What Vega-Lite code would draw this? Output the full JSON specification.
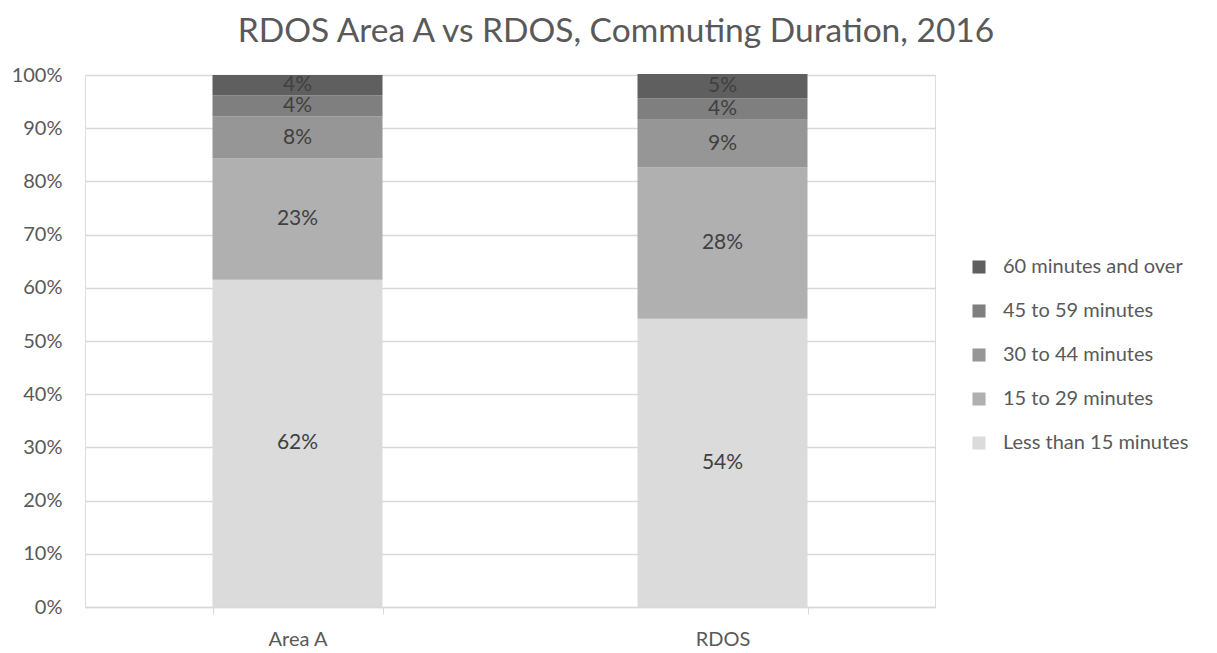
{
  "$schema": "https://vega.github.io/schema/vega-lite/v6.json",
  "autosize": {"type": "none"},
  "padding": {"left": 85, "top": 75, "right": 282, "bottom": 46},
  "width": 850,
  "height": 532,
  "background": "white",
  "title": {
    "text": "RDOS Area A vs RDOS, Commuting Duration, 2016",
    "font": "Lato",
    "fontSize": 33.5,
    "fontWeight": "normal",
    "color": "#595959",
    "anchor": "middle",
    "frame": "group",
    "dx": 106,
    "offset": 16
  },
  "data": {
    "values": [
      {"area": "Area A", "duration": "Less than 15 minutes", "k": 1, "share": 0.615},
      {"area": "Area A", "duration": "15 to 29 minutes", "k": 2, "share": 0.228},
      {"area": "Area A", "duration": "30 to 44 minutes", "k": 3, "share": 0.079},
      {"area": "Area A", "duration": "45 to 59 minutes", "k": 4, "share": 0.040},
      {"area": "Area A", "duration": "60 minutes and over", "k": 5, "share": 0.038},
      {"area": "RDOS", "duration": "Less than 15 minutes", "k": 1, "share": 0.542},
      {"area": "RDOS", "duration": "15 to 29 minutes", "k": 2, "share": 0.284},
      {"area": "RDOS", "duration": "30 to 44 minutes", "k": 3, "share": 0.090},
      {"area": "RDOS", "duration": "45 to 59 minutes", "k": 4, "share": 0.040},
      {"area": "RDOS", "duration": "60 minutes and over", "k": 5, "share": 0.046}
    ]
  },
  "transform": [
    {"stack": "share", "groupby": ["area"], "sort": [{"field": "k", "order": "ascending"}], "as": ["v0", "v1"]},
    {"calculate": "(datum.v0 + datum.v1) / 2", "as": "mid"}
  ],
  "encoding": {
    "x": {
      "field": "area",
      "type": "nominal",
      "scale": {"paddingInner": 0.6, "paddingOuter": 0.3},
      "axis": {
        "title": null,
        "labelAngle": 0,
        "labelFont": "Lato",
        "labelFontSize": 20,
        "labelColor": "#595959",
        "labelPadding": 15,
        "domainColor": "#D9D9D9",
        "domainWidth": 1.5,
        "tickColor": "#D9D9D9",
        "tickBand": "extent",
        "tickSize": 7,
        "grid": false
      }
    }
  },
  "layer": [
    {
      "mark": {"type": "bar"},
      "encoding": {
        "y": {
          "field": "v0",
          "type": "quantitative",
          "scale": {"domain": [0, 1], "nice": false},
          "axis": {
            "title": null,
            "format": ".0%",
            "values": [0, 0.1, 0.2, 0.3, 0.4, 0.5, 0.6, 0.7, 0.8, 0.9, 1],
            "labelOverlap": false,
            "labelFont": "Lato",
            "labelFontSize": 20,
            "labelColor": "#595959",
            "labelPadding": 23,
            "domain": false,
            "ticks": false,
            "gridColor": "#D9D9D9",
            "gridWidth": 1.5
          }
        },
        "y2": {"field": "v1"},
        "color": {
          "field": "duration",
          "type": "nominal",
          "scale": {
            "domain": ["60 minutes and over", "45 to 59 minutes", "30 to 44 minutes", "15 to 29 minutes", "Less than 15 minutes"],
            "range": ["#5F5F5F", "#7F7F7F", "#969696", "#B0B0B0", "#DBDBDB"]
          },
          "legend": {
            "title": null,
            "orient": "none",
            "legendX": 884,
            "legendY": 182,
            "symbolType": "square",
            "symbolSize": 170,
            "symbolStrokeWidth": 0,
            "labelFont": "Lato",
            "labelFontSize": 20,
            "labelColor": "#595959",
            "labelOffset": 14,
            "labelLimit": 400,
            "rowPadding": 24
          }
        }
      }
    },
    {
      "mark": {"type": "text", "font": "Lato", "fontSize": 21, "color": "#404040", "baseline": "middle"},
      "encoding": {
        "y": {"field": "mid", "type": "quantitative"},
        "text": {"field": "share", "type": "quantitative", "format": ".0%"}
      }
    }
  ]
}
